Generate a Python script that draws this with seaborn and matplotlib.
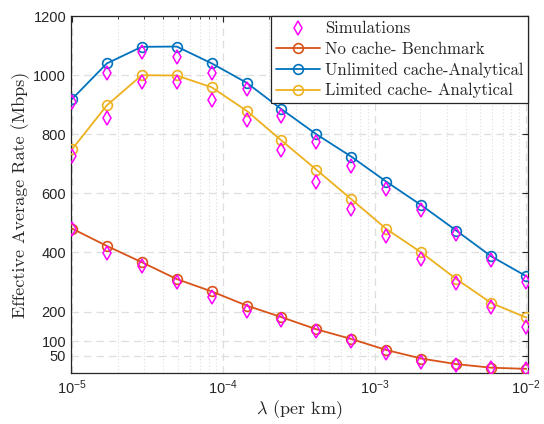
import numpy as np
import pandas as pd
import matplotlib
matplotlib.use("Agg")
import matplotlib.pyplot as plt
import matplotlib.ticker as mticker
import seaborn as sns

# ---- data ----
lam = [1.0e-5, 1.70e-5, 2.89e-5, 4.92e-5, 8.38e-5, 1.43e-4, 2.42e-4,
       4.12e-4, 7.02e-4, 1.19e-3, 2.03e-3, 3.46e-3, 5.88e-3, 1.0e-2]

no_cache = [481, 422, 367, 310, 268, 220, 181, 140, 107, 70, 41, 22, 10, 6]
unlimited = [919, 1040, 1096, 1097, 1040, 974, 885, 800, 724, 640, 560, 474, 387, 320]
limited = [749, 898, 1000, 999, 959, 879, 779, 680, 580, 480, 400, 310, 229, 180]

sim_no_cache = [481, 398, 353, 299, 248, 203, 172, 135, 101, 59, 29, 19, 10, 6]
sim_unlimited = [908, 1009, 1077, 1060, 1009, 952, 862, 775, 692, 615, 545, 463, 376, 300]
sim_limited = [728, 856, 977, 977, 915, 848, 746, 638, 548, 455, 378, 297, 217, 149]

y_ticks = [50, 100, 200, 400, 600, 800, 1000, 1200]
x_ticks = [1e-5, 1e-4, 1e-3, 1e-2]
x_tick_labels = [r'$\mathdefault{10^{-5}}$', r'$\mathdefault{10^{-4}}$',
                 r'$\mathdefault{10^{-3}}$', r'$\mathdefault{10^{-2}}$']

# ---- style ----
sns.set_style("white")
plt.rcParams['font.family'] = ['Liberation Sans', 'DejaVu Sans']
plt.rcParams['mathtext.fontset'] = 'cm'
plt.rcParams['axes.unicode_minus'] = False

RED = '#D95319'
BLUE = '#0072BD'
YEL = '#EDB120'
MAG = '#FF00FF'

fig = plt.figure(figsize=(5.44, 4.24), dpi=100)
ax = fig.add_axes([0.1305, 0.1203, 0.8401, 0.8417])

series = [
    ('No cache- Benchmark', no_cache, RED),
    ('Unlimited cache-Analytical', unlimited, BLUE),
    ('Limited cache- Analytical', limited, YEL),
]
for name, vals, col in series:
    sns.lineplot(x=lam, y=vals, ax=ax, color=col, linewidth=1.3,
                 marker='o', markersize=7, markerfacecolor='none',
                 markeredgecolor=col, markeredgewidth=1.2, label=name,
                 zorder=3)

for i, vals in enumerate([sim_no_cache, sim_unlimited, sim_limited]):
    sns.lineplot(x=lam, y=vals, ax=ax, linestyle='', marker='d',
                 markersize=7.5, markerfacecolor='none', markeredgecolor=MAG,
                 markeredgewidth=1.1, color=MAG,
                 label='Simulations' if i == 0 else None, zorder=4)

ax.set_xscale('log')
ax.set_xlim(0.985e-5, 1.03e-2)
ax.set_ylim(-8, 1200)
ax.set_yticks(y_ticks)
ax.set_xticks(x_ticks)
ax.set_xticklabels(x_tick_labels)
ax.xaxis.set_minor_locator(mticker.LogLocator(base=10, subs=np.arange(2, 10)))
ax.xaxis.set_minor_formatter(mticker.NullFormatter())

ax.grid(True, which='major', axis='both', color='#DEDEDE', linestyle=(0, (6, 4)), linewidth=0.9)
ax.grid(True, which='minor', axis='x', color='#DEDEDE', linestyle=(0, (1, 2)), linewidth=0.8)
ax.set_axisbelow(True)

ax.tick_params(axis='both', which='both', direction='in', top=True, right=True,
               colors='#262626', labelsize=10.5)
ax.tick_params(axis='both', which='major', length=4, width=0.8)
ax.tick_params(axis='x', which='minor', length=2.5, width=0.6)
ax.tick_params(axis='x', which='major', pad=4)
for s in ax.spines.values():
    s.set_color('#262626')
    s.set_linewidth(0.9)
    s.set_visible(True)

ax.set_xlabel(r'$\lambda$ (per km)', family='cmr10', fontsize=13, labelpad=1)
ax.set_ylabel('Effective Average Rate (Mbps)', family='cmr10', fontsize=13, labelpad=2)

h, l = ax.get_legend_handles_labels()
order = ['Simulations', 'No cache- Benchmark', 'Unlimited cache-Analytical', 'Limited cache- Analytical']
hd = dict(zip(l, h))
leg = ax.legend([hd[k] for k in order], order, loc='upper right',
                prop={'family': 'cmr10', 'size': 12}, frameon=True, fancybox=False,
                framealpha=1, edgecolor='#262626', borderaxespad=0.0,
                handlelength=2.6, handletextpad=0.3, labelspacing=0.3,
                borderpad=0.3)
leg.get_frame().set_linewidth(0.9)

fig.savefig('out.png', dpi=100)
